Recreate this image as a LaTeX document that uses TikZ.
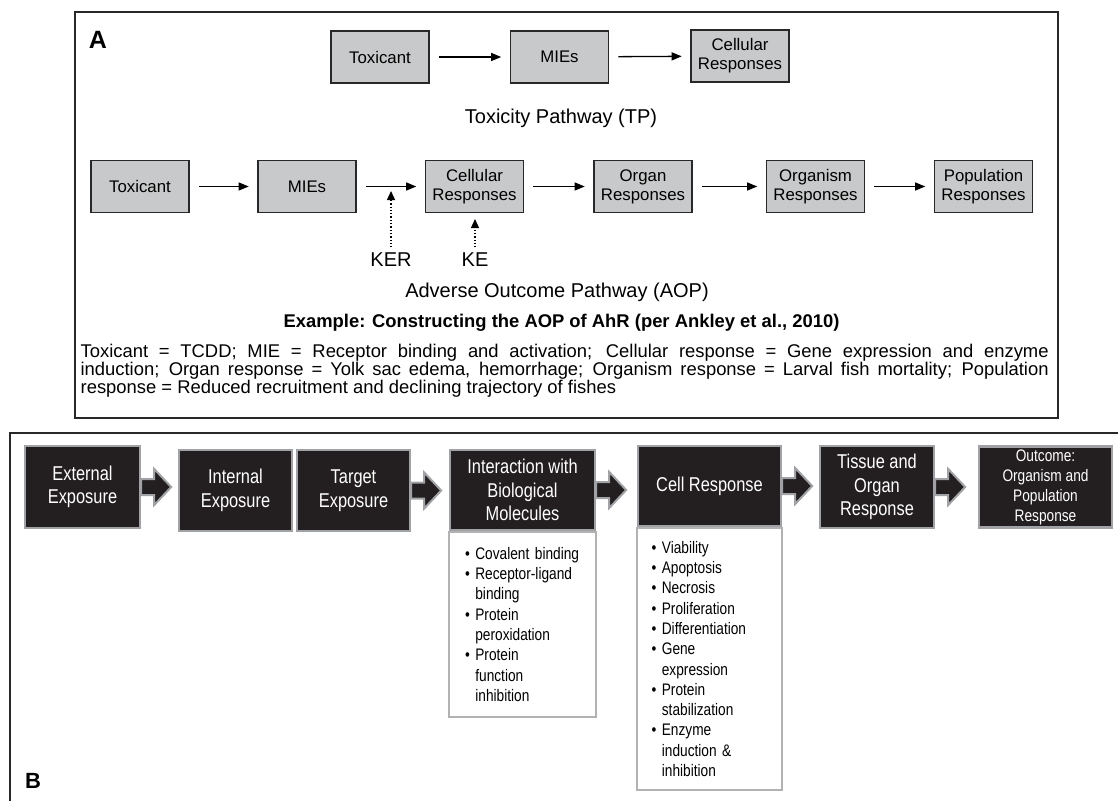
\documentclass[tikz,border=0pt]{standalone}
\usepackage{fontspec}
\setmainfont{Liberation Sans}
\newfontfamily\narrowsans[FakeStretch=0.82]{Liberation Sans}
\usetikzlibrary{arrows.meta}

\definecolor{boxgray}{RGB}{200,201,202}
\definecolor{inkgray}{RGB}{40,40,40}
\definecolor{boxblack}{RGB}{35,31,32}
\definecolor{rimgray}{RGB}{160,162,165}
\definecolor{listgray}{RGB}{178,178,178}

% fat block arrow starting at a box side
\newcommand{\fatarrow}[1]{%
  \draw[fatarr] (#1) ++(0,-8) -- ++(13,0) -- ++(0,-10) -- ++(17,18)
    -- ++(-17,18) -- ++(0,-10) -- ++(-13,0) -- cycle;}
\newcommand{\bitem}[1]{\textbullet\ #1}
\newcommand{\bcont}[1]{\phantom{\textbullet\ }#1}

\begin{document}
\begin{tikzpicture}[x=1pt,y=-1pt,line width=1.3pt,
  gbox/.style={draw=inkgray,fill=boxgray,line width=1.6pt,minimum width=98,
    minimum height=52,inner sep=0,align=center,font=\fontsize{16.8}{19}\selectfont},
  flow/.style={-{Triangle[length=10pt,width=8pt]},shorten <=9pt,shorten >=8.5pt},
  keyarr/.style={dotted,-{Triangle[length=9pt,width=8pt]},shorten <=4pt},
  bbox/.style={draw=rimgray,fill=boxblack,line width=2.4pt,text=white,inner sep=0,
    align=center,font=\narrowsans\fontsize{20}{23.5}\selectfont},
  lbox/.style={draw=listgray,fill=white,line width=1.5pt,anchor=north,inner ysep=0,
    align=left,font=\narrowsans\fontsize{16.7}{20.3}\selectfont},
  fatarr/.style={draw=rimgray,fill=boxblack,line width=2pt,line join=miter}]
  \useasboundingbox (0,0) rectangle (1118,800);

  % panel A
  \draw[draw=inkgray,line width=1.5pt] (75,12) rectangle (1058,418);
  \node[font=\bfseries\fontsize{25}{25}\selectfont,inner sep=0] (labA) at (98,40) {A};

  \node[gbox] (tpTox) at (380,57) {Toxicant};
  \node[gbox] (tpMie) at (559.5,57) {MIEs};
  \node[gbox] (tpCell) at (740,56) {Cellular\\Responses};
  \draw[flow] (tpTox) -- (tpMie);
  \draw[flow] (tpMie) -- (tpCell);
  \node[font=\fontsize{20}{24}\selectfont,inner sep=0] (tpTitle) at (561,118)
    {Toxicity Pathway (TP)};

  \node[gbox] (aopTox) at (140,186.5) {Toxicant};
  \node[gbox] (aopMie) at (307,186.5) {MIEs};
  \node[gbox] (aopCell) at (474.5,186.5) {Cellular\\Responses};
  \node[gbox] (aopOrgan) at (643,186.5) {Organ\\Responses};
  \node[gbox] (aopOrganism) at (815.5,186.5) {Organism\\Responses};
  \node[gbox] (aopPop) at (983.5,186.5) {Population\\Responses};
  \draw[flow] (aopTox) -- (aopMie);
  \draw[flow] (aopMie) -- (aopCell);
  \draw[flow] (aopCell) -- (aopOrgan);
  \draw[flow] (aopOrgan) -- (aopOrganism);
  \draw[flow] (aopOrganism) -- (aopPop);

  \node[font=\fontsize{20}{24}\selectfont,inner sep=1pt] (ker) at (391,260) {KER};
  \node[font=\fontsize{20}{24}\selectfont,inner sep=1pt] (ke) at (475,260) {KE};
  \coordinate (kerTip) at (391,191);
  \coordinate (keTip) at (475,219);
  \draw[keyarr] (ker.north) -- (kerTip);
  \draw[keyarr] (ke.north) -- (keTip);

  \node[font=\fontsize{20}{24}\selectfont,inner sep=0] (aopTitle) at (557,292)
    {Adverse Outcome Pathway (AOP)};
  \node[font=\bfseries\fontsize{18.4}{22}\selectfont,inner sep=0] (exTitle) at (561.5,323)
    {Example: Constructing the AOP of AhR (per Ankley et al., 2010)};
  \node[anchor=north west,inner sep=0,text width=968,align=justify,
    font=\fontsize{18.4}{18}\selectfont] (exText) at (80,343.6)
    {\hyphenpenalty=10000 Toxicant = TCDD; MIE = Receptor binding and activation;
     Cellular response = Gene expression and enzyme\linebreak
     induction; Organ response = Yolk sac edema, hemorrhage; Organism response =
     Larval fish mortality; Population\linebreak
     response = Reduced recruitment and declining trajectory of fishes};

  % panel B
  \draw[draw=inkgray,line width=1.5pt] (1125,433) -- (10,433) -- (10,806);
  \node[font=\bfseries\fontsize{22}{22}\selectfont,inner sep=0] (labB) at (33,781) {B};

  \node[bbox,minimum width=115,minimum height=82] (ext) at (82.5,487) {External\\Exposure};
  \node[bbox,minimum width=113,minimum height=81] (int) at (235.5,490.5) {Internal\\Exposure};
  \node[bbox,minimum width=113,minimum height=81] (tgt) at (353.5,490.5) {Target\\Exposure};
  \node[bbox,minimum width=145,minimum height=80] (inter) at (522.5,490)
    {Interaction with\\Biological\\Molecules};
  \node[lbox,minimum height=185,text width=115,inner xsep=16] (interList) at (inter.south)
    {\bitem{Covalent binding}\\ \bitem{Receptor-ligand}\\ \bcont{binding}\\
     \bitem{Protein}\\ \bcont{peroxidation}\\ \bitem{Protein}\\ \bcont{function}\\
     \bcont{inhibition}};
  \node[bbox,minimum width=143,minimum height=80] (cell) at (709.5,486) {Cell Response};
  \node[lbox,minimum height=262,text width=116,inner xsep=14.5] (cellList) at (cell.south)
    {\bitem{Viability}\\ \bitem{Apoptosis}\\ \bitem{Necrosis}\\ \bitem{Proliferation}\\
     \bitem{Differentiation}\\ \bitem{Gene}\\ \bcont{expression}\\ \bitem{Protein}\\
     \bcont{stabilization}\\ \bitem{Enzyme}\\ \bcont{induction \&}\\ \bcont{inhibition}};
  \node[bbox,minimum width=114,minimum height=82] (tissue) at (877,487)
    {Tissue and\\Organ\\Response};
  \node[bbox,minimum width=133,minimum height=81,font=\narrowsans\fontsize{16.7}{20}\selectfont]
    (outc) at (1045.5,487) {Outcome:\\Organism and\\Population\\Response};

  \fatarrow{ext.east}
  \fatarrow{tgt.east}
  \fatarrow{inter.east}
  \fatarrow{cell.east}
  \fatarrow{tissue.east}
\end{tikzpicture}
\end{document}
